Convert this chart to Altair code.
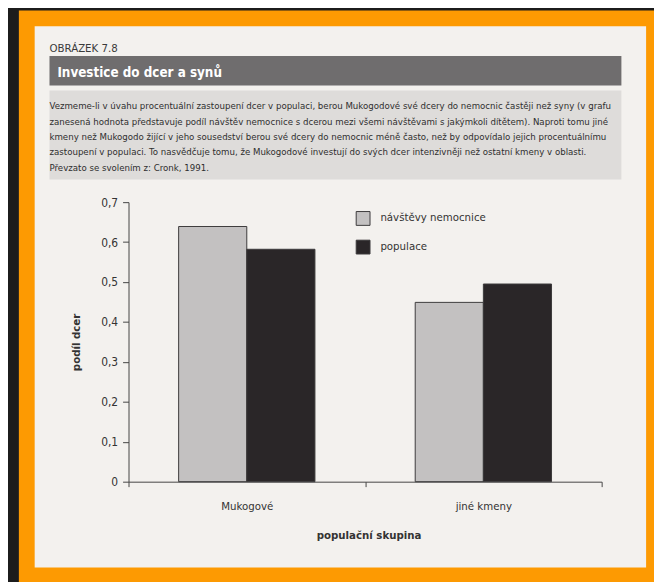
import altair as alt
import pandas as pd

# ---------------- data ----------------
groups = ["Mukogové", "jiné kmeny"]
series = ["návštěvy nemocnice", "populace"]
visits = [0.639, 0.449]       # podíl návštěv nemocnice s dcerou
population = [0.582, 0.495]   # podíl dcer v populaci
y_ticks = [0, 0.1, 0.2, 0.3, 0.4, 0.5, 0.6, 0.7]

header = "OBRÁZEK 7.8"
fig_title = "Investice do dcer a synů"
caption_lines = [
    "Vezmeme-li v úvahu procentuální zastoupení dcer v populaci, berou Mukogodové své dcery do nemocnic častěji než syny (v grafu",
    "zanesená hodnota představuje podíl návštěv nemocnice s dcerou mezi všemi návštěvami s jakýmkoli dítětem). Naproti tomu jiné",
    "kmeny než Mukogodo žijící v jeho sousedství berou své dcery do nemocnic méně často, než by odpovídalo jejich procentuálnímu",
    "zastoupení v populaci. To nasvědčuje tomu, že Mukogodové investují do svých dcer intenzivněji než ostatní kmeny v oblasti.",
    "Převzato se svolením z: Cronk, 1991.",
]
x_title = "populační skupina"
y_title = "podíl dcer"

rows = []
for g, v, p in zip(groups, visits, population):
    rows.append({"skupina": g, "řada": series[0], "hodnota": v})
    rows.append({"skupina": g, "řada": series[1], "hodnota": p})
df = pd.DataFrame(rows)

# ---------------- styling ----------------
FONT = "DejaVu Sans Condensed, Liberation Sans Narrow, Roboto, sans-serif"
TXT = "#333333"
PX, PY = 130, 201          # plot-area origin in window pixels
W, H = 479, 283
FS = 11.5                  # chart text size

one = pd.DataFrame({"k": [0]})


def X(v):
    return alt.value(v - PX)


def Y(v):
    return alt.value(v - PY)


def rect(x1, y1, x2, y2, color):
    return alt.Chart(one).mark_rect(color=color).encode(
        x=X(x1), x2=X(x2), y=Y(y1), y2=Y(y2)
    )


def text(s, x, y, size, color=TXT, weight="normal", style="normal"):
    return alt.Chart(one).mark_text(
        text=s, align="left", baseline="alphabetic", fontSize=size,
        color=color, fontWeight=weight, fontStyle=style, font=FONT,
    ).encode(x=X(x), y=Y(y))


layers = [
    rect(19, 7, 700, 640, "#fd9a02"),          # orange frame
    rect(35, 23, 654, 571, "#f3f1ee"),         # page
    rect(50, 53, 629, 83, "#6f6d6e"),          # title band
    rect(50, 88, 629, 178, "#dedcda"),         # caption box
    text(header, 50, 49, 11.5, "#3a3a3a"),
    text(fig_title, 58, 74, 13.5, "#ffffff", weight="bold"),
]
base_y = [107, 122.5, 138, 153.5, 169]
for line, by in zip(caption_lines, base_y):
    layers.append(text(line, 50, by, 9.7, "#2e2e2e"))

bars = alt.Chart(df).mark_bar(stroke="#3c3a3b", strokeWidth=1).encode(
    x=alt.X(
        "skupina:N", sort=groups,
        scale=alt.Scale(paddingInner=0, paddingOuter=0),
        axis=alt.Axis(
            title=x_title, labelAngle=0, tickBand="extent", tickSize=5,
            labelPadding=14, labelFontSize=FS, labelFont=FONT, labelColor=TXT,
            titleFont=FONT, titleFontSize=FS, titleFontWeight="bold", titleColor=TXT,
            titleX=243, titleY=55, titleBaseline="middle", titleAlign="center",
            domainColor="#444444", tickColor="#444444", zindex=1,
        ),
    ),
    xOffset=alt.XOffset(
        "řada:N", sort=series,
        scale=alt.Scale(paddingInner=0, paddingOuter=0.7355),
    ),
    y=alt.Y(
        "hodnota:Q",
        scale=alt.Scale(domain=[0, 0.7], nice=False, zero=True),
        axis=alt.Axis(
            title=y_title, values=y_ticks, grid=False, tickSize=6, labelPadding=5,
            labelExpr="datum.value == 0 ? '0' : replace(format(datum.value, '.1f'), '.', ',')",
            labelFontSize=12, labelFont=FONT, labelColor=TXT,
            titleFont=FONT, titleFontSize=FS, titleFontWeight="bold", titleColor=TXT,
            titleX=-53, titleY=141.5, titleBaseline="middle", titleAlign="center",
            domainColor="#444444", tickColor="#444444", zindex=1,
        ),
    ),
    color=alt.Color(
        "řada:N", sort=series,
        scale=alt.Scale(domain=series, range=["#c3c1c1", "#2a2628"]),
        legend=alt.Legend(
            title=None, orient="none", legendX=230, legendY=9,
            symbolType="square", symbolSize=196, symbolStrokeColor="#3c3a3b",
            symbolStrokeWidth=1, symbolOpacity=1, rowPadding=10, labelOffset=10,
            labelFontSize=FS, labelFont=FONT, labelColor=TXT, zindex=1,
        ),
    ),
)
layers.append(bars)

chart = alt.layer(*layers).properties(
    width=W, height=H,
    autosize=alt.AutoSizeParams(type="none"),
    padding={"left": PX - 8, "top": PY - 8, "right": 654 - (PX - 8) - W,
             "bottom": 574 - (PY - 8) - H},
    background="#1c1c1c",
).configure_view(stroke=None)

chart.save("out.html", embed_options={"renderer": "svg", "actions": False})
